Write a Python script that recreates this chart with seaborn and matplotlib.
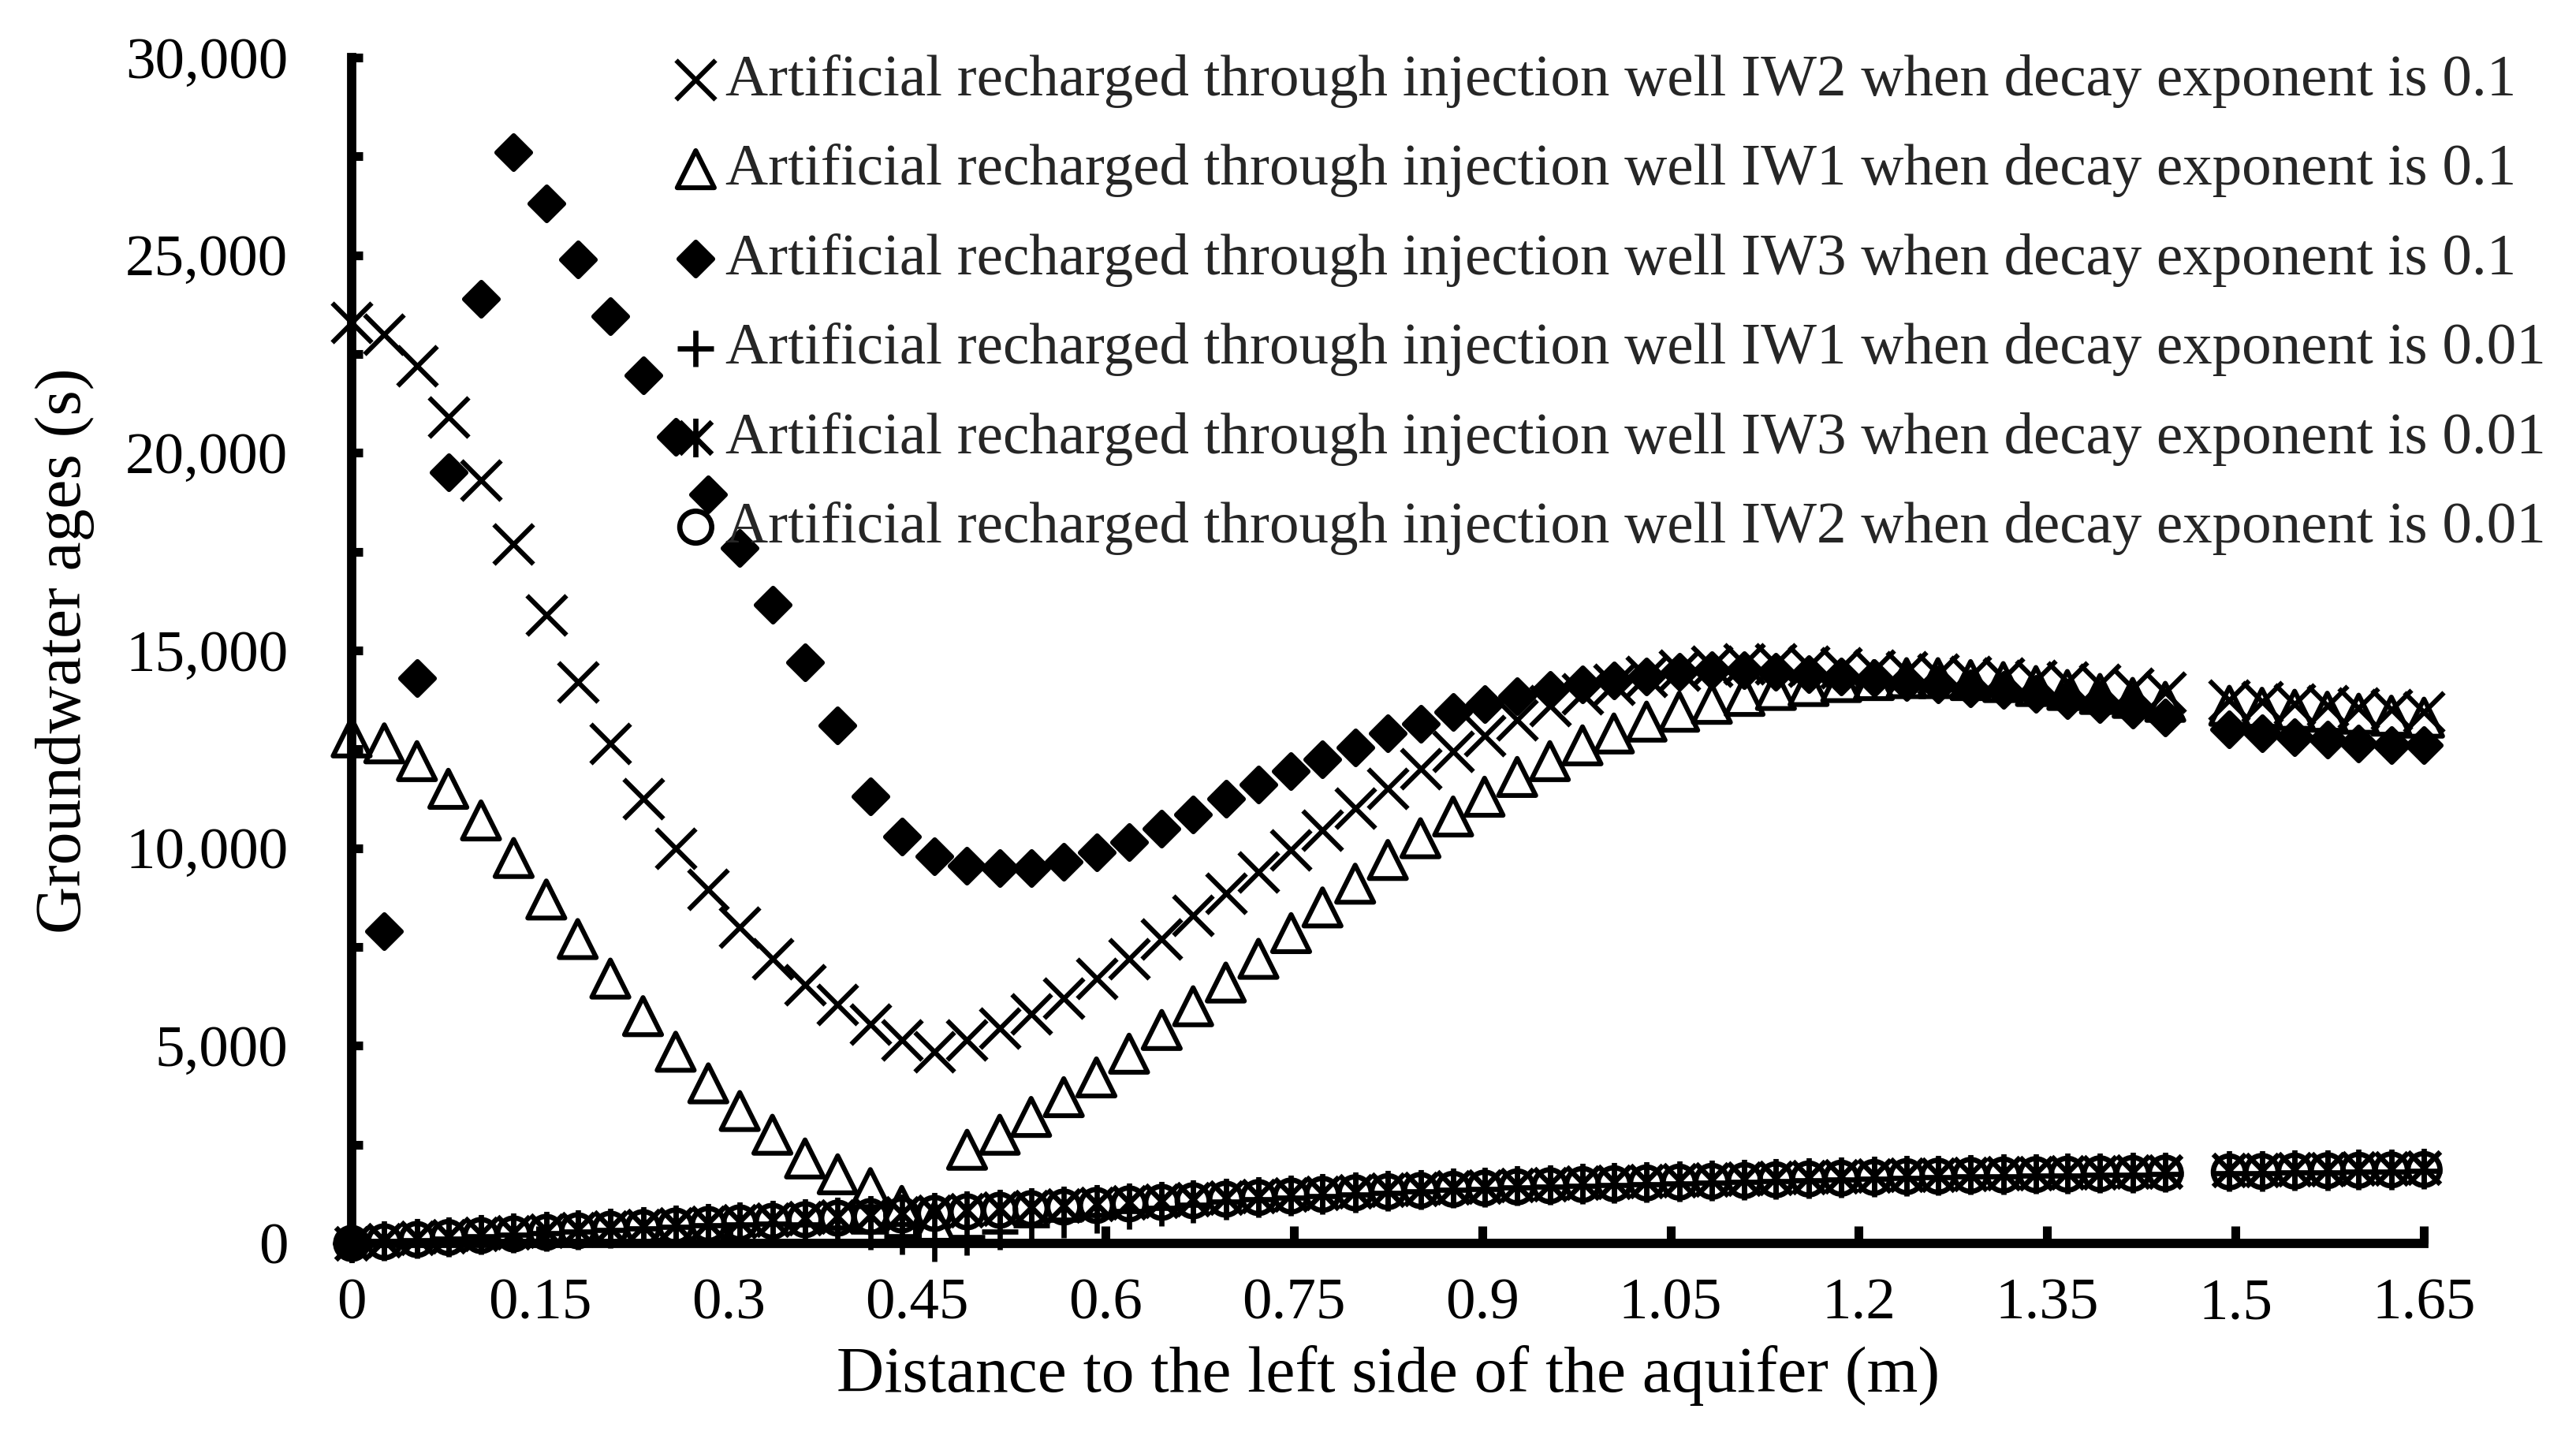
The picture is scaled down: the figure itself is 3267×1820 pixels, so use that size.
import numpy as np
import matplotlib
matplotlib.use("Agg")
import matplotlib.pyplot as plt
from matplotlib.path import Path
from matplotlib.ticker import FuncFormatter, MultipleLocator
import seaborn as sns

# distance to the left side of the aquifer (m); the point at 1.470 is missing in the source
distance = [0.000, 0.026, 0.052, 0.077, 0.103, 0.129, 0.155, 0.180, 0.206, 0.232,
            0.258, 0.284, 0.309, 0.335, 0.361, 0.387, 0.413, 0.438, 0.464, 0.490,
            0.516, 0.541, 0.567, 0.593, 0.619, 0.645, 0.670, 0.696, 0.722, 0.748,
            0.773, 0.799, 0.825, 0.851, 0.877, 0.902, 0.928, 0.954, 0.980, 1.005,
            1.031, 1.057, 1.083, 1.109, 1.134, 1.160, 1.186, 1.212, 1.238, 1.263,
            1.289, 1.315, 1.341, 1.366, 1.392, 1.418, 1.444,
            1.495, 1.521, 1.547, 1.573, 1.598, 1.624, 1.650]

# groundwater ages (s)
iw2_01 = [23300, 23000, 22200, 20900, 19300, 17700, 15900, 14200, 12650, 11250,
          10000, 8950, 8000, 7200, 6550, 6050, 5550, 5150, 4850, 5150,
          5450, 5800, 6200, 6700, 7200, 7700, 8300, 8850, 9400, 9950,
          10450, 11000, 11500, 12000, 12450, 12850, 13250, 13600, 13900, 14150,
          14350, 14500, 14600, 14650, 14650, 14600, 14550, 14500, 14450, 14400,
          14350, 14300, 14250, 14200, 14150, 14050, 13950,
          13750, 13700, 13650, 13600, 13550, 13500, 13450]

iw1_01 = [12800, 12650, 12200, 11500, 10700, 9750, 8700, 7700, 6700, 5750,
          4850, 4050, 3350, 2750, 2150, 1750, 1400, 950, 550, 2370,
          2750, 3200, 3700, 4200, 4800, 5400, 6000, 6600, 7200, 7850,
          8500, 9100, 9700, 10250, 10800, 11300, 11800, 12200, 12600, 12900,
          13200, 13450, 13650, 13850, 14000, 14100, 14200, 14250, 14300, 14300,
          14250, 14200, 14100, 14000, 13900, 13800, 13700,
          13600, 13550, 13500, 13450, 13400, 13350, 13300]

iw3_01 = [0, 7900, 14300, 19500, 23900, 27600, 26300, 24900, 23450, 21950,
          20400, 18950, 17600, 16150, 14700, 13100, 11300, 10300, 9800, 9550,
          9500, 9500, 9650, 9900, 10150, 10500, 10850, 11250, 11600, 11950,
          12250, 12550, 12900, 13150, 13450, 13650, 13850, 14000, 14150, 14250,
          14350, 14450, 14500, 14500, 14450, 14400, 14350, 14300, 14200, 14150,
          14050, 14000, 13900, 13750, 13650, 13500, 13300,
          13000, 12900, 12800, 12750, 12650, 12600, 12600]

iw1_001 = [0, 20, 80, 130, 180, 220, 260, 300, 340, 380,
           420, 450, 480, 500, 480, 400, 300, 180, 0, 160,
           300, 450, 600, 720, 820, 900, 980, 1050, 1110, 1160,
           1200, 1240, 1280, 1320, 1350, 1380, 1410, 1440, 1460, 1480,
           1500, 1520, 1540, 1560, 1580, 1600, 1620, 1640, 1660, 1670,
           1690, 1700, 1710, 1720, 1730, 1740, 1750,
           1770, 1780, 1790, 1800, 1810, 1820, 1830]

iw3_001 = [0, 80, 140, 190, 240, 280, 320, 360, 400, 440,
           480, 520, 560, 600, 640, 680, 720, 760, 800, 840,
           880, 920, 960, 1000, 1040, 1080, 1120, 1160, 1200, 1240,
           1280, 1320, 1350, 1380, 1410, 1440, 1470, 1500, 1530, 1550,
           1570, 1590, 1610, 1630, 1650, 1670, 1690, 1710, 1730, 1740,
           1760, 1770, 1780, 1790, 1800, 1810, 1820,
           1850, 1860, 1870, 1880, 1890, 1900, 1910]

iw2_001 = [0, 40, 100, 150, 200, 240, 280, 320, 360, 400,
           440, 480, 520, 560, 600, 640, 680, 720, 760, 800,
           840, 880, 920, 960, 1000, 1040, 1080, 1120, 1160, 1200,
           1240, 1280, 1310, 1340, 1370, 1400, 1430, 1460, 1490, 1510,
           1530, 1550, 1570, 1590, 1610, 1630, 1650, 1670, 1690, 1700,
           1720, 1730, 1740, 1750, 1760, 1770, 1780,
           1810, 1820, 1830, 1840, 1850, 1860, 1870]

x_ticks = [0, 0.15, 0.3, 0.45, 0.6, 0.75, 0.9, 1.05, 1.2, 1.35, 1.5, 1.65]
x_tick_labels = ["0", "0.15", "0.3", "0.45", "0.6", "0.75", "0.9", "1.05", "1.2", "1.35", "1.5", "1.65"]

sns.set_theme(style="ticks")
plt.rcParams["font.family"] = ["Liberation Serif", "DejaVu Serif"]

FS = 54
# Excel-style "star" marker: an x with a vertical bar through it
star = Path([(-0.5, -0.5), (0.5, 0.5), (-0.5, 0.5), (0.5, -0.5), (0, -0.6), (0, 0.6)],
            [Path.MOVETO, Path.LINETO, Path.MOVETO, Path.LINETO, Path.MOVETO, Path.LINETO])

fig = plt.figure(figsize=(32.67, 18.2), dpi=100)
ax = fig.add_axes([0.1365, 0.1335, 0.8045, 0.8265])

series = [
    (iw2_01, "x", 1300, "black", 4.4, "Artificial recharged through injection well IW2 when decay exponent is 0.1"),
    (iw1_01, "^", 1150, "none", 4.4, "Artificial recharged through injection well IW1 when decay exponent is 0.1"),
    (iw3_01, "D", 480, "black", 4.4, "Artificial recharged through injection well IW3 when decay exponent is 0.1"),
    (iw1_001, "+", 1100, "black", 4.8, "Artificial recharged through injection well IW1 when decay exponent is 0.01"),
    (iw3_001, star, 1250, "black", 4.8, "Artificial recharged through injection well IW3 when decay exponent is 0.01"),
    (iw2_001, "o", 850, "none", 4.8, "Artificial recharged through injection well IW2 when decay exponent is 0.01"),
]
for vals, mk, size, fc, lw, lab in series:
    sns.scatterplot(x=distance, y=vals, ax=ax, marker=mk, s=size, color="black",
                    facecolor=fc, edgecolor="black", linewidth=lw, label=lab,
                    zorder=3, clip_on=False)

ax.set_xlim(0, 1.65)
ax.set_ylim(0, 30000)
ax.set_xticks(x_ticks)
ax.set_xticklabels(x_tick_labels)
ax.yaxis.set_major_locator(MultipleLocator(5000))
ax.yaxis.set_minor_locator(MultipleLocator(2500))
ax.yaxis.set_major_formatter(FuncFormatter(lambda v, p: f"{int(v):,}"))

for side in ["top", "right"]:
    ax.spines[side].set_visible(False)
for side in ["left", "bottom"]:
    ax.spines[side].set_linewidth(8.5)
    ax.spines[side].set_color("black")
    ax.spines[side].set_capstyle("projecting")

ax.tick_params(axis="both", which="both", direction="in", width=8, color="black",
               labelsize=FS, labelcolor="black")
ax.tick_params(axis="y", which="both", length=10, pad=58)
ax.tick_params(axis="x", which="major", length=16, pad=32)

ax.set_xlabel("Distance to the left side of the aquifer (m)", fontsize=60, color="black", labelpad=12)
ax.set_ylabel("Groundwater ages (s)", fontsize=60, color="black", labelpad=28)

leg = ax.legend(loc="upper left", bbox_to_anchor=(0.2632, 0.9625), bbox_transform=fig.transFigure,
                frameon=False, fontsize=FS, borderpad=0, borderaxespad=0, handlelength=0.6,
                handletextpad=0.2, labelspacing=0.6, scatterpoints=1)

fig.savefig("out.png", dpi=100, facecolor="white")
